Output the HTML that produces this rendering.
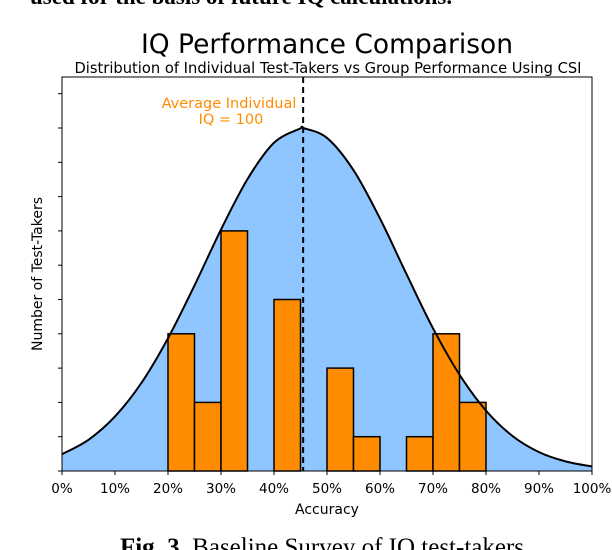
<!DOCTYPE html>
<html><head><meta charset="utf-8">
<style>
html,body{margin:0;padding:0;background:#fff;width:612px;height:550px;overflow:hidden}
svg text{font-family:"DejaVu Sans","Liberation Sans",sans-serif}
</style></head>
<body>
<svg id="chart" width="612" height="550" viewBox="0 0 612 550" xmlns="http://www.w3.org/2000/svg">
<text x="30" y="4" font-weight="bold" font-size="23" style="font-family:'Liberation Serif',serif">used for the basis of future IQ calculations.</text>
<text x="327" y="53" text-anchor="middle" font-size="26.5">IQ Performance Comparison</text>
<text x="328" y="73" text-anchor="middle" font-size="14.7">Distribution of Individual Test-Takers vs Group Performance Using CSI</text>
<g id="plot"></g>
<text x="327" y="514" text-anchor="middle" font-size="14">Accuracy</text>
<text transform="translate(42,274) rotate(-90)" text-anchor="middle" font-size="14">Number of Test-Takers</text>
<text x="322" y="555" text-anchor="middle" font-size="25" style="font-family:'Liberation Serif',serif"><tspan font-weight="bold">Fig. 3.</tspan> Baseline Survey of IQ test-takers</text>
</svg>
<script>
const curveX = [0,5,10,15,20,25,30,35,40,45,45.5,50,55,60,65,70,75,80,85,90,95,100];
const curveY = [0.49,0.91,1.59,2.57,3.87,5.41,7.04,8.51,9.57,9.99,10,9.71,8.77,7.36,5.74,4.16,2.81,1.76,1.02,0.55,0.28,0.13];
const binStarts = [20,25,30,40,50,55,65,70,75];
const binCounts = [4,2,7,5,3,1,1,4,2];
const binWidth = 5;
const meanIQ = 45.5;
const xTicks = [0,10,20,30,40,50,60,70,80,90,100];
const yTicks = [0,1,2,3,4,5,6,7,8,9,10,11];

const L=62,R=592,T=77,B=471,unit=34.3;
const xs=v=>L+(v/100)*(R-L);
const ys=v=>B-v*unit;
const NS='http://www.w3.org/2000/svg';
const g=document.getElementById('plot');
function mk(tag,attrs){const e=document.createElementNS(NS,tag);for(const k in attrs)e.setAttribute(k,attrs[k]);g.appendChild(e);return e;}

const pts=curveX.map((x,i)=>[xs(x),ys(curveY[i])]);
let d='M'+pts[0][0]+','+pts[0][1];
for(let i=0;i<pts.length-1;i++){
  const p0=pts[Math.max(0,i-1)],p1=pts[i],p2=pts[i+1],p3=pts[Math.min(pts.length-1,i+2)];
  const c1=[p1[0]+(p2[0]-p0[0])/6,p1[1]+(p2[1]-p0[1])/6];
  const c2=[p2[0]-(p3[0]-p1[0])/6,p2[1]-(p3[1]-p1[1])/6];
  d+=' C'+c1[0]+','+c1[1]+' '+c2[0]+','+c2[1]+' '+p2[0]+','+p2[1];
}
const fill=mk('path',{d:d+' L'+xs(100)+','+B+' L'+xs(0)+','+B+' Z',fill:'#8fc6ff',stroke:'none'});



binStarts.forEach((s,i)=>{
  const r=mk('rect',{x:xs(s),y:ys(binCounts[i]),width:xs(s+binWidth)-xs(s),height:B-ys(binCounts[i]),fill:'#ff8c00',stroke:'#000','stroke-width':1.5});
  
  
});

const line=mk('path',{d:d,fill:'none',stroke:'#000','stroke-width':2});



const ml=mk('line',{x1:xs(meanIQ),x2:xs(meanIQ),y1:T,y2:B,stroke:'#000','stroke-width':2,'stroke-dasharray':'6,4'});



const a1=mk('text',{x:229,y:108,'text-anchor':'middle',fill:'#ff8c00','font-size':14.5});
a1.textContent='Average Individual';


const a2=mk('text',{x:231,y:124,'text-anchor':'middle',fill:'#ff8c00','font-size':14.5});
a2.textContent='IQ = 100';



const frame=mk('rect',{x:L,y:T,width:R-L,height:B-T,fill:'none',stroke:'#000','stroke-width':1});



xTicks.forEach(v=>{
  const t=mk('line',{x1:xs(v),x2:xs(v),y1:B,y2:B+4,stroke:'#000'});
  
  
  const l=mk('text',{x:xs(v),y:B+22,'text-anchor':'middle','font-size':13.5});
  l.textContent=v+'%';
  
  
});
yTicks.forEach(v=>{
  const t=mk('line',{x1:L-4,x2:L,y1:ys(v),y2:ys(v),stroke:'#000'});
  
  
});
</script>
</body></html>
